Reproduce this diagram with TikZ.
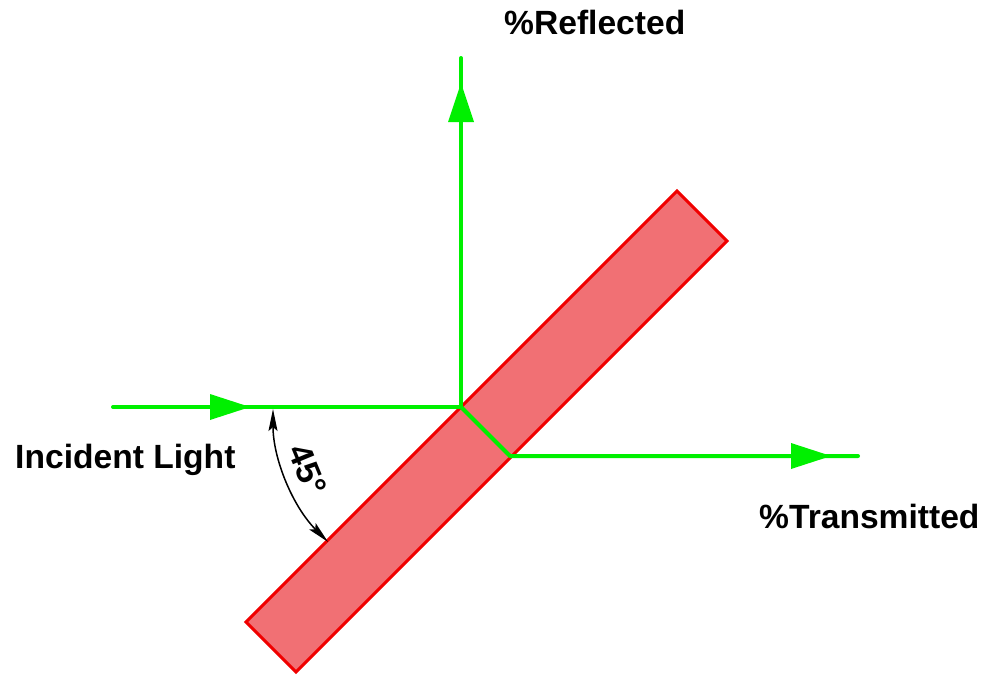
\documentclass[tikz,border=0pt]{standalone}
\usepackage{fontspec}
\setmainfont{Liberation Sans}
\usetikzlibrary{arrows.meta}
\definecolor{beam}{RGB}{0,240,0}
\definecolor{plateedge}{RGB}{240,0,0}
\definecolor{platefill}{RGB}{241,112,116}
\begin{document}
\begin{tikzpicture}[x=1pt,y=-1pt,
  beamline/.style={draw=beam,line width=4pt,line cap=round,line join=round},
  beamtip/.style={fill=beam},
  lbl/.style={font=\fontsize{33.6}{40}\selectfont\bfseries,inner sep=0pt},
  anglearc/.style={draw=black,line width=1.5pt,{Stealth[length=22pt,width=9pt,inset=4pt]}-{Stealth[length=22pt,width=9pt,inset=4pt]}}]
\useasboundingbox (0,0) rectangle (1000,691);
% plate
\draw[draw=plateedge,fill=platefill,line width=3pt,line join=miter]
  (677,191) -- (727,241) -- (296,672) -- (246,622) -- cycle;
% beams
\coordinate (src) at (113,407);
\coordinate (hit) at (461,407);
\coordinate (exitp) at (510,456);
\coordinate (tend) at (858,456);
\coordinate (rend) at (461,58);
\draw[beamline] (src) -- (hit);
\draw[beamline] (hit) -- (rend);
\draw[beamline] (hit) -- (exitp) -- (tend);
% arrow heads
\fill[beamtip] (250,407) -- (210,394) -- (210,420) -- cycle;
\fill[beamtip] (461,83) -- (448,122) -- (474,122) -- cycle;
\fill[beamtip] (831,456) -- (791,443) -- (791,469) -- cycle;
% angle
\draw[anglearc] (273,409) arc[start angle=180,end angle=135,radius=188];
\node[lbl,rotate=-67.5] (ang) at (308,470) {45°};
% labels
\node[lbl,anchor=base west] (inc) at (15,468) {Incident Light};
\node[lbl,anchor=base west] (refl) at (504,34) {\%Reflected};
\node[lbl,anchor=base west] (trans) at (759,528) {\%Transmitted};
\end{tikzpicture}
\end{document}
